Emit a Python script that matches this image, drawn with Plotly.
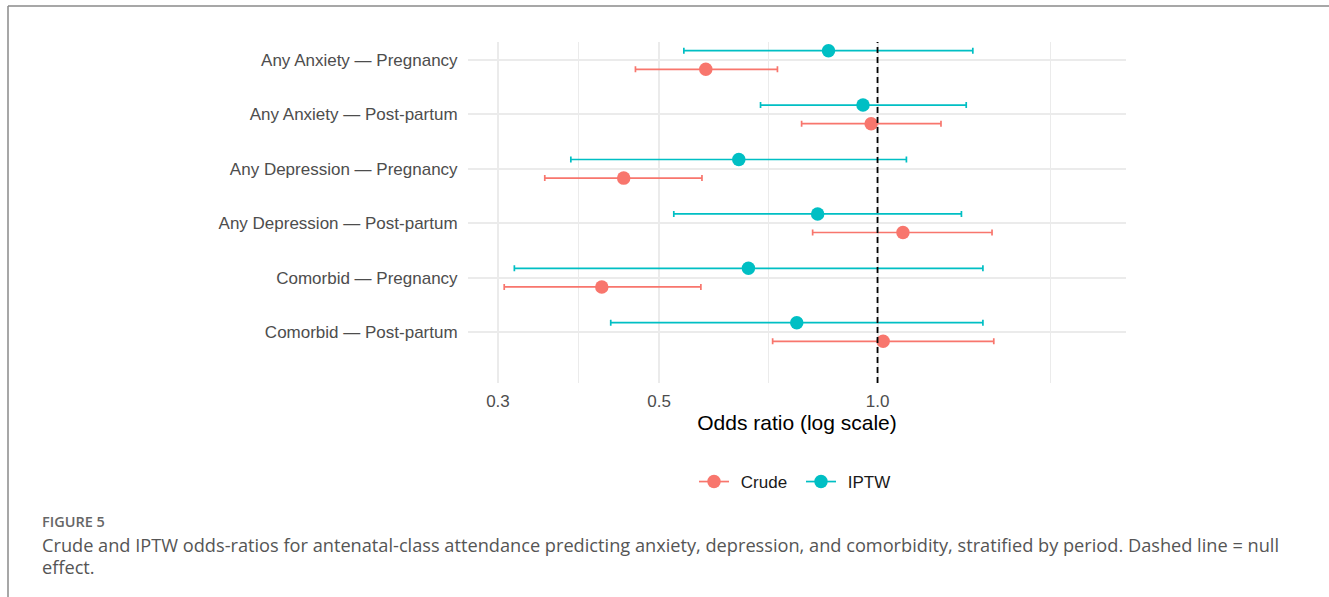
import math
import plotly.graph_objects as go

# ---- data ----
labels = ["Any Anxiety — Pregnancy", "Any Anxiety — Post-partum",
          "Any Depression — Pregnancy", "Any Depression — Post-partum",
          "Comorbid — Pregnancy", "Comorbid — Post-partum"]
crude_or = [0.580, 0.980, 0.447, 1.084, 0.417, 1.018]
crude_lo = [0.464, 0.786, 0.348, 0.814, 0.306, 0.717]
crude_hi = [0.728, 1.223, 0.573, 1.438, 0.571, 1.446]
iptw_or = [0.856, 0.955, 0.644, 0.827, 0.664, 0.774]
iptw_lo = [0.541, 0.690, 0.378, 0.524, 0.316, 0.429]
iptw_hi = [1.353, 1.325, 1.096, 1.305, 1.397, 1.397]
x_ticks = [0.3, 0.5, 1.0]
x_tick_text = ["0.3", "0.5", "1.0"]
x_minor = [0.387, 0.707, 1.732]
null_value = 1.0
series_names = ["Crude", "IPTW"]

CRUDE_COL = "#F8766D"
IPTW_COL = "#00BFC4"
W, H = 1329, 597
ML, MR, MT, MB = 468, 203, 42, 214
PW, PH = W - ML - MR, H - MT - MB

def px(xp):
    return (xp - ML) / PW

def py(yp):
    return (H - MB - yp) / PH

n = len(labels)
pos = [n - i for i in range(n)]
dodge = 0.171
y_crude = [p - dodge for p in pos]
y_iptw = [p + dodge for p in pos]

fig = go.Figure()

def add_series(name, col, xs, lo, hi, ys):
    fig.add_trace(go.Scatter(
        x=xs, y=ys, mode="markers", name=name, showlegend=False,
        marker=dict(color=col, size=13.5),
        error_x=dict(type="data", symmetric=False,
                     array=[h - v for h, v in zip(hi, xs)],
                     arrayminus=[v - l for v, l in zip(xs, lo)],
                     color=col, thickness=1.7, width=3),
    ))

add_series(series_names[0], CRUDE_COL, crude_or, crude_lo, crude_hi, y_crude)
add_series(series_names[1], IPTW_COL, iptw_or, iptw_lo, iptw_hi, y_iptw)

yr = [0.0625, 6.331]
fig.add_trace(go.Scatter(x=[null_value, null_value], y=yr, mode="lines",
                         line=dict(color="black", width=1.8, dash="6px,4px"),
                         showlegend=False, hoverinfo="skip"))

# legend entries
for name, col in zip(series_names, [CRUDE_COL, IPTW_COL]):
    fig.add_trace(go.Scatter(x=[None], y=[None], mode="lines+markers",
                             name="\u2009\u2009" + name,
                             marker=dict(color=col, size=13.5),
                             line=dict(color=col, width=1.7)))

font_fam = "Liberation Sans, Arial, sans-serif"
fig.update_layout(
    width=W, height=H, autosize=False,
    margin=dict(l=ML, r=MR, t=MT, b=MB, pad=0),
    paper_bgcolor="white", plot_bgcolor="white",
    font=dict(family=font_fam, size=17, color="#4D4D4D"),
    xaxis=dict(type="log",
               range=[math.log10(0.3) - 0.0413, math.log10(2.0) + 0.0413],
               tickvals=x_ticks, ticktext=x_tick_text,
               ticks="outside", ticklen=3, tickcolor="rgba(0,0,0,0)",
               tickfont=dict(size=17, color="#4D4D4D"),
               showgrid=True, gridcolor="#EBEBEB", gridwidth=1.8,
               minor=dict(tickvals=x_minor, showgrid=True, gridcolor="#EBEBEB",
                          gridwidth=1, ticks=""),
               zeroline=False, showline=False,
               title=dict(text="Odds ratio (log scale)", standoff=2,
                          font=dict(size=21, color="black"))),
    yaxis=dict(range=yr, tickvals=pos, ticktext=labels,
               ticks="outside", ticklen=6, tickcolor="rgba(0,0,0,0)",
               tickfont=dict(size=17, color="#4D4D4D"),
               showgrid=True, gridcolor="#EBEBEB", gridwidth=1.8,
               zeroline=False, showline=False),
    legend=dict(orientation="h", x=px(801), y=py(482), xanchor="center",
                yanchor="middle", font=dict(size=17, color="#1A1A1A"),
                itemwidth=30, entrywidth=62, bgcolor="rgba(0,0,0,0)"),
    showlegend=True,
)

# frame
fig.add_shape(type="line", xref="paper", yref="paper", x0=px(8), x1=px(1335),
              y0=py(6), y1=py(6), line=dict(color="#8A8A8A", width=1.5))
fig.add_shape(type="line", xref="paper", yref="paper", x0=px(8), x1=px(8),
              y0=py(6), y1=py(600), line=dict(color="#8A8A8A", width=1.5))

cap_font = "Open Sans, Noto Sans, sans-serif"
fig.add_annotation(xref="paper", yref="paper", x=px(40), y=py(521),
                   xanchor="left", yanchor="middle", showarrow=False,
                   text="FIGURE 5",
                   font=dict(family=cap_font, size=14.5, color="#666666", weight=600))
fig.add_annotation(xref="paper", yref="paper", x=px(40), y=py(545),
                   xanchor="left", yanchor="middle", showarrow=False,
                   text="Crude and IPTW odds-ratios for antenatal-class attendance predicting anxiety, depression, and comorbidity, stratified by period. Dashed line = null",
                   font=dict(family=cap_font, size=18.2, color="#555555"))
fig.add_annotation(xref="paper", yref="paper", x=px(40), y=py(567),
                   xanchor="left", yanchor="middle", showarrow=False,
                   text="effect.",
                   font=dict(family=cap_font, size=18.2, color="#555555"))

fig.write_html("out.html", config={"displayModeBar": False},
               post_script="document.body.style.margin='0';")
